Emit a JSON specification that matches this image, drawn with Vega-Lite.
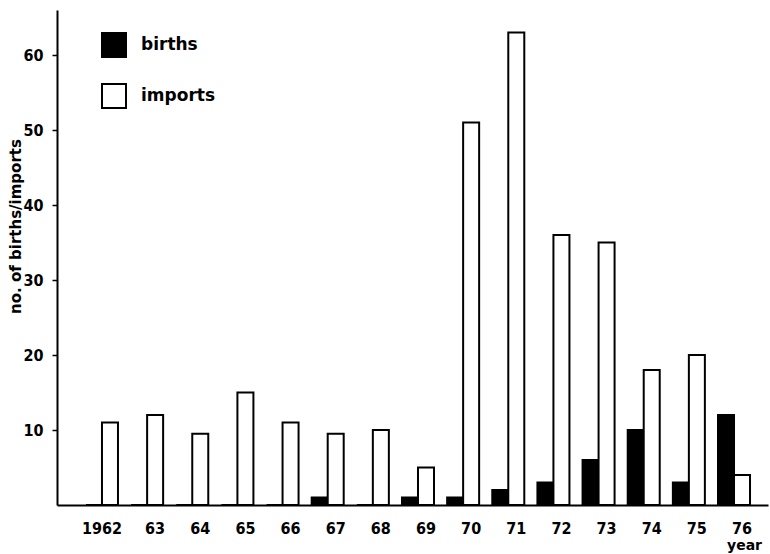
{
  "$schema": "https://vega.github.io/schema/vega-lite/v6.json",
  "width": 711,
  "height": 495,
  "autosize": "none",
  "padding": {"left": 57, "top": 10, "right": 2, "bottom": 49},
  "background": "white",
  "config": {
    "view": {"stroke": null},
    "font": "DejaVu Sans Condensed"
  },
  "data": {
    "values": [
      {"year": "1962", "series": "births", "count": 0},
      {"year": "1962", "series": "imports", "count": 11},
      {"year": "1963", "series": "births", "count": 0},
      {"year": "1963", "series": "imports", "count": 12},
      {"year": "1964", "series": "births", "count": 0},
      {"year": "1964", "series": "imports", "count": 9.5},
      {"year": "1965", "series": "births", "count": 0},
      {"year": "1965", "series": "imports", "count": 15},
      {"year": "1966", "series": "births", "count": 0},
      {"year": "1966", "series": "imports", "count": 11},
      {"year": "1967", "series": "births", "count": 1},
      {"year": "1967", "series": "imports", "count": 9.5},
      {"year": "1968", "series": "births", "count": 0},
      {"year": "1968", "series": "imports", "count": 10},
      {"year": "1969", "series": "births", "count": 1},
      {"year": "1969", "series": "imports", "count": 5},
      {"year": "1970", "series": "births", "count": 1},
      {"year": "1970", "series": "imports", "count": 51},
      {"year": "1971", "series": "births", "count": 2},
      {"year": "1971", "series": "imports", "count": 63},
      {"year": "1972", "series": "births", "count": 3},
      {"year": "1972", "series": "imports", "count": 36},
      {"year": "1973", "series": "births", "count": 6},
      {"year": "1973", "series": "imports", "count": 35},
      {"year": "1974", "series": "births", "count": 10},
      {"year": "1974", "series": "imports", "count": 18},
      {"year": "1975", "series": "births", "count": 3},
      {"year": "1975", "series": "imports", "count": 20},
      {"year": "1976", "series": "births", "count": 12},
      {"year": "1976", "series": "imports", "count": 4}
    ]
  },
  "mark": {"type": "bar", "stroke": "black", "strokeWidth": 2},
  "encoding": {
    "x": {
      "field": "year",
      "type": "ordinal",
      "scale": {"paddingInner": 0.291, "paddingOuter": 0.52, "align": 0.617},
      "axis": {
        "title": "year",
        "titleFont": "DejaVu Sans",
        "titleFontSize": 14,
        "titleFontWeight": "bold",
        "titleX": 687,
        "titleY": 44,
        "titleAlign": "center",
        "titleBaseline": "alphabetic",
        "labelAngle": 0,
        "labelExpr": "datum.value == '1962' ? '1962' : substring(datum.value, 2)",
        "labelOffset": {"condition": {"test": "datum.value == '1962'", "value": 0}, "value": 8},
        "labelFontSize": 16,
        "labelFontWeight": "bold",
        "labelColor": "black",
        "labelPadding": 15,
        "ticks": false,
        "domainColor": "black",
        "domainWidth": 2,
        "grid": false
      }
    },
    "xOffset": {
      "field": "series",
      "type": "nominal",
      "sort": ["births", "imports"],
      "scale": {"paddingInner": 0, "paddingOuter": 0}
    },
    "y": {
      "field": "count",
      "type": "quantitative",
      "scale": {"domain": [0, 66], "nice": false},
      "axis": {
        "values": [10, 20, 30, 40, 50, 60],
        "title": "no. of births/imports",
        "titleFont": "DejaVu Sans",
        "titleFontSize": 15,
        "titleFontWeight": "bold",
        "titleX": -42,
        "titleY": 216,
        "titleAngle": 270,
        "titleAlign": "center",
        "titleBaseline": "middle",
        "labelFontSize": 16,
        "labelFontWeight": "bold",
        "labelColor": "black",
        "labelPadding": 9,
        "tickSize": 5,
        "tickWidth": 1.5,
        "tickColor": "black",
        "domainColor": "black",
        "domainWidth": 2,
        "grid": false
      }
    },
    "fill": {
      "field": "series",
      "type": "nominal",
      "scale": {"domain": ["births", "imports"], "range": ["black", "white"]},
      "legend": {
        "title": null,
        "orient": "none",
        "legendX": 44,
        "legendY": 22,
        "symbolType": "square",
        "symbolSize": 576,
        "symbolStrokeColor": "black",
        "symbolStrokeWidth": 2,
        "symbolOpacity": 1,
        "rowPadding": 19,
        "labelFont": "DejaVu Sans",
        "labelFontSize": 17,
        "labelFontWeight": "bold",
        "labelColor": "black",
        "labelOffset": 14
      }
    }
  }
}
